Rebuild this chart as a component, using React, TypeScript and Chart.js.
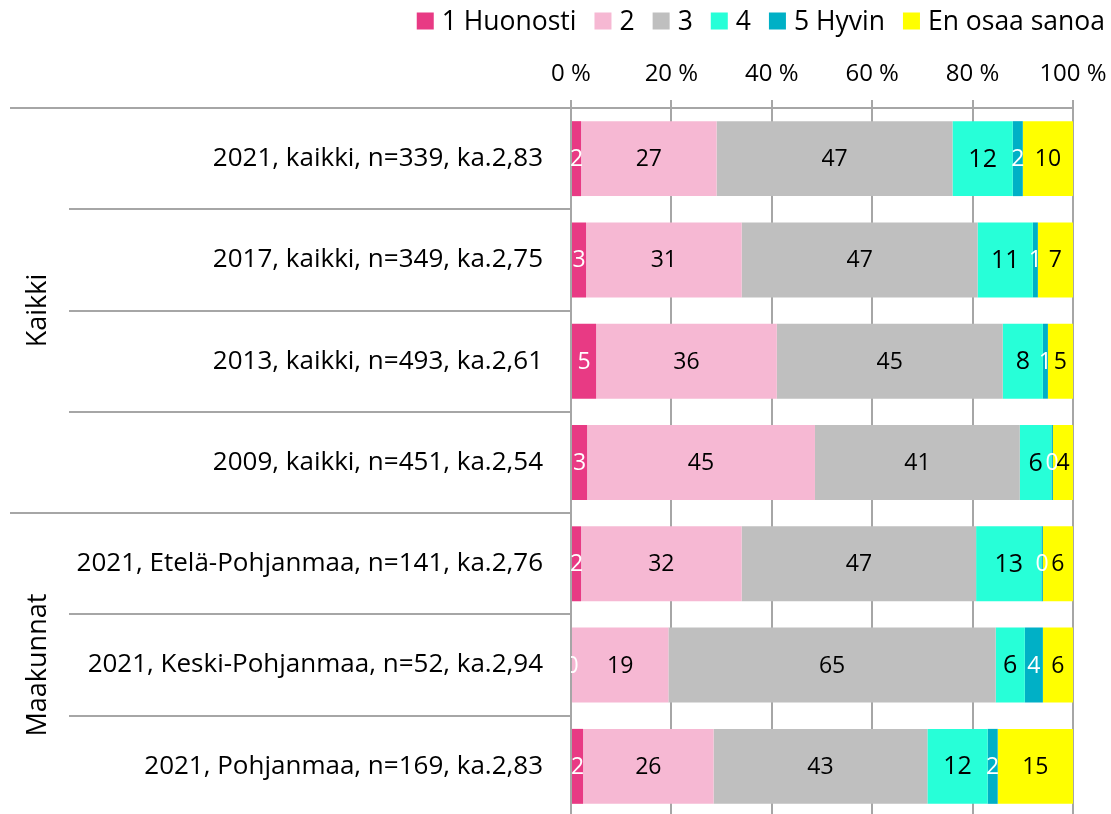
import React, { useEffect, useRef } from 'react';
import { Chart, registerables } from 'chart.js';

Chart.register(...registerables);

const categories = [
  '2021, kaikki, n=339, ka.2,83',
  '2017, kaikki, n=349, ka.2,75',
  '2013, kaikki, n=493, ka.2,61',
  '2009, kaikki, n=451, ka.2,54',
  '2021, Etelä-Pohjanmaa, n=141, ka.2,76',
  '2021, Keski-Pohjanmaa, n=52, ka.2,94',
  '2021, Pohjanmaa, n=169, ka.2,83',
];

const seriesNames = ['1 Huonosti', '2', '3', '4', '5 Hyvin', 'En osaa sanoa'];

const s1 = [2, 3, 5, 3.2, 2, 0.2, 2.4];
const s2 = [27, 31, 36, 45.4, 32, 19.2, 26];
const s3 = [47, 47, 45, 40.8, 46.7, 65.2, 42.6];
const s4 = [12, 11, 8, 6.3, 13, 5.8, 12];
const s5 = [2, 1, 1, 0.3, 0.3, 3.6, 2];
const s6 = [10, 7, 5, 4.0, 6, 6.0, 15];

const groups = [
  { label: 'Kaikki', from: 0, to: 3 },
  { label: 'Maakunnat', from: 4, to: 6 },
];

const xTicks = [0, 20, 40, 60, 80, 100];

const colors = ['#E83A84', '#F6B8D3', '#BFBFBF', '#27FFD8', '#00B0C6', '#FFFF00'];
const labelColors = ['#FFFFFF', '#000000', '#000000', '#000000', '#FFFFFF', '#000000'];
const labelSizes = [23, 23, 23, 25, 23, 23];

const FONT = '"Open Sans", Lato, sans-serif';
const GRID = '#A6A6A6';
const CANVAS_H = 822;

export default function App() {
  const ref = useRef<HTMLCanvasElement | null>(null);

  useEffect(() => {
    const canvas = ref.current;
    if (!canvas) return;
    const series = [s1, s2, s3, s4, s5, s6];

    const extras = {
      id: 'extras',
      afterDatasetsDraw(chart: any) {
        const ctx = chart.ctx;
        const area = chart.chartArea;
        ctx.save();
        ctx.beginPath();
        ctx.rect(area.left, area.top, area.right - area.left, area.bottom - area.top);
        ctx.clip();
        ctx.textAlign = 'center';
        ctx.textBaseline = 'middle';
        chart.data.datasets.forEach((ds: any, di: number) => {
          const meta = chart.getDatasetMeta(di);
          ctx.font = `${labelSizes[di]}px ${FONT}`;
          ctx.fillStyle = labelColors[di];
          meta.data.forEach((el: any, i: number) => {
            const p = el.getProps(['x', 'y', 'base'], true);
            const cx = (p.x + p.base) / 2;
            ctx.fillText(String(Math.round(ds.data[i])), cx, p.y + 1);
          });
        });
        ctx.restore();
      },
      afterDraw(chart: any) {
        const ctx = chart.ctx;
        const area = chart.chartArea;
        const ys = chart.scales.y;
        const n = categories.length;
        const boundary = (i: number) => {
          if (i <= 0) return area.top;
          if (i >= n) return area.bottom;
          return (ys.getPixelForValue(i - 1) + ys.getPixelForValue(i)) / 2;
        };
        ctx.save();
        ctx.strokeStyle = GRID;
        ctx.lineWidth = 2;
        const groupStarts = groups.map((g) => g.from);
        for (let i = 0; i <= n; i++) {
          const y = Math.round(boundary(i));
          const x0 = groupStarts.includes(i) || i === n ? 10 : 69;
          ctx.beginPath();
          ctx.moveTo(x0, y);
          ctx.lineTo(area.left, y);
          ctx.stroke();
        }
        // group labels
        ctx.fillStyle = '#000';
        ctx.font = `27px ${FONT}`;
        ctx.textAlign = 'center';
        ctx.textBaseline = 'middle';
        groups.forEach((g) => {
          const yc = (boundary(g.from) + boundary(g.to + 1)) / 2;
          ctx.save();
          ctx.translate(38, yc);
          ctx.rotate(-Math.PI / 2);
          ctx.fillText(g.label, 0, 0);
          ctx.restore();
        });
        // legend
        ctx.font = `26.5px ${FONT}`;
        ctx.textBaseline = 'middle';
        ctx.textAlign = 'left';
        const sq = 17;
        const gapIn = 8;
        const gapOut = 18;
        const widths = seriesNames.map((s) => sq + gapIn + ctx.measureText(s).width);
        const total = widths.reduce((a, b) => a + b, 0) + gapOut * (seriesNames.length - 1);
        let x = 1105 - total;
        const ly = 21;
        seriesNames.forEach((s, i) => {
          ctx.fillStyle = colors[i];
          ctx.fillRect(x, ly - sq / 2, sq, sq);
          ctx.fillStyle = '#000';
          ctx.fillText(s, x + sq + gapIn, ly + 1);
          x += widths[i] + gapOut;
        });
        ctx.restore();
      },
    };

    const chart = new Chart(canvas, {
      type: 'bar',
      data: {
        labels: categories,
        datasets: series.map((d, i) => ({
          label: seriesNames[i],
          data: d,
          backgroundColor: colors[i],
          borderWidth: 0,
          categoryPercentage: 1,
          barPercentage: 0.74,
        })),
      },
      options: {
        indexAxis: 'y',
        responsive: false,
        animation: false,
        devicePixelRatio: 1,
        layout: { padding: { left: 0, top: 0, right: 38, bottom: 5 } },
        plugins: {
          legend: { display: false },
          tooltip: { enabled: false },
        },
        scales: {
          x: {
            position: 'top',
            stacked: true,
            min: 0,
            max: 100,
            afterBuildTicks: (scale: any) => {
              scale.ticks = xTicks.map((v) => ({ value: v }));
            },
            afterFit: (scale: any) => {
              scale.height = 108;
              scale.paddingLeft = 0;
              scale.paddingRight = 0;
            },
            ticks: {
              font: { family: FONT, size: 24 },
              color: '#000',
              padding: 11,
              maxRotation: 0,
              callback: (v: any) => `${v} %`,
            },
            grid: {
              color: GRID,
              lineWidth: 2,
              tickLength: 8,
              drawOnChartArea: true,
            },
            border: { color: GRID, width: 2 },
          },
          y: {
            stacked: true,
            afterFit: (scale: any) => {
              scale.width = 571;
              scale.paddingTop = 0;
              scale.paddingBottom = 0;
            },
            ticks: {
              font: { family: FONT, size: 26 },
              color: '#000',
              padding: 20,
            },
            grid: {
              color: GRID,
              lineWidth: 2,
              tickLength: 8,
              drawOnChartArea: false,
              offset: true,
            },
            border: { color: GRID, width: 2 },
          },
        },
      },
      plugins: [extras],
    } as any);

    return () => chart.destroy();
  }, []);

  return (
    <div style={{ position: 'absolute', left: 0, top: 0, width: 1111, height: 814, overflow: 'hidden', background: '#fff' }}>
      <canvas ref={ref} width={1111} height={CANVAS_H} style={{ display: 'block' }} />
    </div>
  );
}
